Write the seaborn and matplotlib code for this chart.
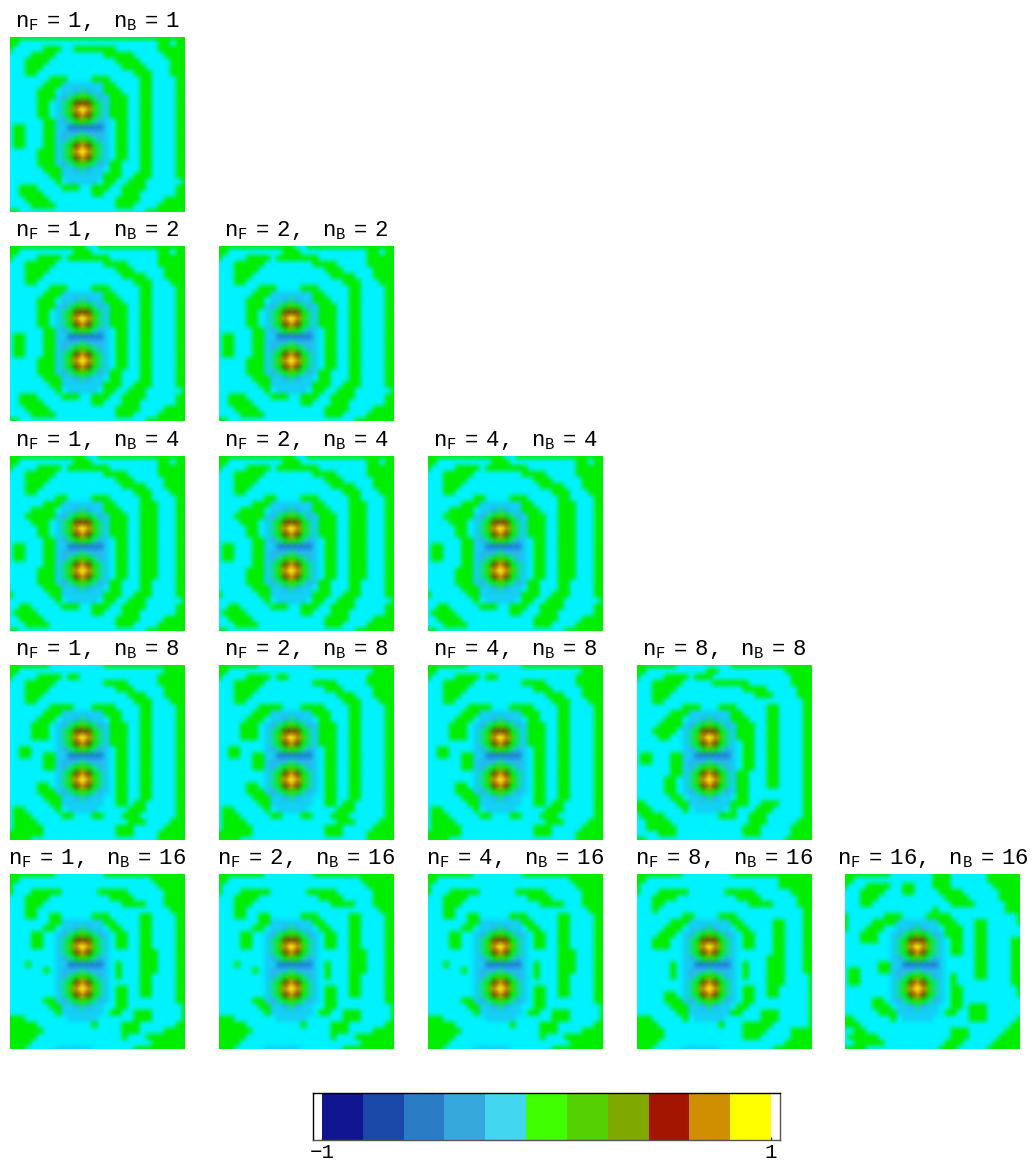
# -*- coding: utf-8 -*-
"""
Density differences for the (nF, nB) grid, one small map per basis pair
"""
import numpy as np
import matplotlib
matplotlib.use("Agg")
import matplotlib.pyplot as plt
from matplotlib.colors import ListedColormap
import seaborn as sb

# one character per grid point, colour level (hex digit)
GRID_11_TOP = [
    "555555555555555555555555555555",
    "554444444444444444444444455455",
    "544444555445555555444444455555",
    "444455554444444455555444445555",
    "444555544444444444555544444555",
    "444555444444444444455554444555",
    "444554444444444444444555444555",
]
GRID_12 = [
    "555555555555544555555555555555",
    "554444444445554444444444455455",
    "544445555455555554444444455555",
    "444555554444444455554444455555",
    "444555544444444444555444445555",
    "444555444444444444455554445555",
    "444554444444444444444555444555",
    "444444455544445554444455444455",
    "444444555433334555444455444455",
    "444445554333333355544455444455",
    "444445554335553345554455444455",
    "444445544357875345554455444455",
    "444445544359A95345554455444455",
    "444445544358985345554455444455",
    "444444554335553344554455444455",
    "455444554322222344554455444455",
    "455444554333333344554455444455",
    "455444554335553344554455444455",
    "455444554357875344554455444455",
    "444445554359A95344554455444455",
    "444445554358985344554455444455",
    "444445554335553345544455444455",
    "444444555333333345544455444455",
    "444444455533333455544555444455",
    "444444445553333555445554444445",
    "445554444555445554455554444455",
    "445555444444445544455544444455",
    "444555544444444444555544445555",
    "444455554444444444555444455555",
    "554444444444444444444445555555",
]
GRID_14 = [
    "555555555555544555555555555555",
    "554444444445554444444444455455",
    "544445555455555554444444455555",
    "444555554444444455554444455555",
    "444555544444444444555444445555",
    "444555444444444444455554445555",
    "444554444444444444444555444555",
    "444444445544445554444455444455",
    "444444555433334555444455544455",
    "444455554333333355544455544455",
    "444555554335553345554455544455",
    "444455544357875345554455544455",
    "444445544359A95345554455544455",
    "444445544358985345554455544455",
    "444444554335553344554455544455",
    "455444554322222344554455544455",
    "455444554333333344554455544455",
    "455444554335553344554455544455",
    "444444554357875344554455544455",
    "444445554359A95344554455544455",
    "444445554358985344554455544455",
    "444445554335553345544455444455",
    "444444555333333345544455444455",
    "544444455533333455544555444455",
    "444444445553333555445554444445",
    "445544444555445554455554444455",
    "455554444444445544455544444455",
    "445555444444444444555544445555",
    "444555544444444444555444455555",
    "554444444444444444444445555555",
]
GRID_18 = [
    "555555544444444455555555555556",
    "554444444444444444444444445555",
    "544445555455444444444444455555",
    "444555554444444455554444455555",
    "444555544444444444555444445555",
    "444555444444444444445554445555",
    "444554444444444444444555444555",
    "444444455554445555444455444455",
    "444444555433334455544455444455",
    "444445554333333345544455444455",
    "444455544335553345554455444455",
    "444455544357875345554455444455",
    "444455544359A95345554455444455",
    "444444444358985345554455444455",
    "445544444335553344554455444455",
    "445544554322222344554455444455",
    "444444554333333344554455444455",
    "444444554335553344554455444455",
    "444444444357875344554455444455",
    "444444444359A95344554455444455",
    "444445544358985344554455444455",
    "444445554335553344554455444455",
    "444444555333333344554455444455",
    "444444455533333444554554444455",
    "455444445553333444445554444455",
    "455544444554445544455544444455",
    "455554444444444444445554444555",
    "455555444444444444555444445555",
    "555555444444444444555444455555",
    "555544444444444444444444455555",
]
GRID_88 = [
    "555555544444444455555555555556",
    "554444444444554444444444455555",
    "544445555455544444444444445555",
    "444555554444455555544444445555",
    "444555544444444444555544444555",
    "444555444444444444445554444555",
    "444554444444444444444444444455",
    "444444445554445554444455444455",
    "444444555433334555444455444455",
    "444445554333333355544455444455",
    "444455554335553345554455444455",
    "444555544357875345554455444455",
    "444455444359A95345554455444455",
    "444444444358985344554455444455",
    "444444444335553344554455444455",
    "455444554322222344554455444455",
    "455444554333333344554455444455",
    "444444554335553344554455444455",
    "444444554357875345544455444455",
    "444445544359A95345544455444455",
    "444445544358985345544455444455",
    "444445544335553345544444444455",
    "444444554333333345544444444455",
    "554444455533333455544555444455",
    "555444445553333554445554444455",
    "455554444444445554455544444455",
    "445555444444444444455544444555",
    "445555544444444444555444445555",
    "444455544444444444555444445555",
    "554444444444444444444444455555",
]
GRID_116 = [
    "555555554444444455555555555556",
    "554444444444444444444444555555",
    "544444444444444444444444455555",
    "544455555444444555554444445555",
    "444555544444444445555444445555",
    "444555444444444444455554445555",
    "444554444444444444444444444555",
    "444554455444445554444455444455",
    "444444455433334555444455444455",
    "444444554333333345544455444455",
    "444455444335553344554455444455",
    "444455444357875344554455444455",
    "444455444359A95344554455444455",
    "444444444358985344444455544455",
    "444444444335553344444455544455",
    "444544444322222344544455544455",
    "444444544333333344544455544455",
    "444444444335553344544455444455",
    "444444444357875344444455444455",
    "444444444359A95344554455444455",
    "444444444358985344554455444455",
    "444444554335553344554444444455",
    "444444455333333344554444444445",
    "444444445533333445544555444445",
    "555444444433333444444555444445",
    "555554444444445444455544444455",
    "555555444444444444455544445555",
    "555554444444444444454445555555",
    "555544444444444444444444555555",
    "555444443333334444444555555555",
]
GRID_816 = [
    "555555554444444455555555555556",
    "554444444444444444444444555555",
    "544444444444444444444444555555",
    "544455555444444555554444445555",
    "444555544444444445555444444555",
    "444554444444444444455554444555",
    "444544444444444444444444444455",
    "444444445544445554444444444455",
    "444444555433334555444445544455",
    "444445554333333345544445544455",
    "444455544335553344554445544455",
    "444555444357875344554445544455",
    "444555444359A95344554445544455",
    "444444444358985344444445544455",
    "444444444335553344444455544455",
    "444444544322222344544455544455",
    "444444544333333344544455544455",
    "444444544335553344544455544445",
    "444444444357875344444455544445",
    "444444444359A95344554455444445",
    "444445544358985344554455444445",
    "444445554335553344554444444445",
    "444444555333333345544444444445",
    "444444455533333455444555444445",
    "555444445533334444444555444445",
    "555544444444445444555554444445",
    "555554444444444444555544445555",
    "555554444444444444555444445555",
    "555544444444444444444444455555",
    "555444443333334444444445555555",
]
GRID_1616 = [
    "555555554444444555444444555556",
    "554444444444444555444444555555",
    "544455554455444555444444455555",
    "444555544455444455554444445555",
    "444555444444444445555444445555",
    "444554444444444444555544444555",
    "444444444444444544444444444555",
    "544444455544445555444444444445",
    "544445555433334455544455444445",
    "544455544333333345554455444444",
    "444555444335553345554455444444",
    "444555444357875344554455444455",
    "444444444359A95344554455444455",
    "444444444358985344554455444455",
    "444444444335553344444455444455",
    "444444554322222344444455444455",
    "455444554333333344444455444455",
    "455444444335553344544455444455",
    "455444444357875344544444444455",
    "444444444359A95344554444444445",
    "444444444358985344554444444445",
    "444445544335553344554444444444",
    "444445554333333344554555444444",
    "444444555533333445544555444444",
    "554444445553333444444555444445",
    "555444444444444444444444444455",
    "445544444444444444555444444555",
    "455555444444444444555444445555",
    "445555544444444445554444455555",
    "555544444444444455544444555555",
]
# the two peaks and the blue waist look alike in every panel: rows 8..24, columns 8..16
CORE = [
    ".3333333.",
    ".33BCB33.",
    "3BC565CB3",
    "3C58885C3",
    "3C69A96C3",
    "3C58985C3",
    "3BC565CB3",
    "332222223",
    "3BBBCBBB3",
    "3BC565CB3",
    "3C58985C3",
    "3C69A96C3",
    "3C58985C3",
    "3BC565CB3",
    ".33BCB33.",
    ".3333333.",
    ".4333334.",
]

N_F = [1, 2, 4, 8, 16]
N_B = [1, 2, 4, 8, 16]
# which transcribed map each (nF, nB) panel shows
PANEL_GRIDS = {
    (1, 1): GRID_11_TOP + GRID_12[7:],
    (1, 2): GRID_12, (2, 2): GRID_12,
    (1, 4): GRID_14, (2, 4): GRID_14, (4, 4): GRID_14,
    (1, 8): GRID_18, (2, 8): GRID_18, (4, 8): GRID_18, (8, 8): GRID_88,
    (1, 16): GRID_116, (2, 16): GRID_116, (4, 16): GRID_116,
    (8, 16): GRID_816, (16, 16): GRID_1616,
}

# levels 0..A as on the colour bar, B darker halo blue, C green-cyan ring
PANEL_COLORS = ["#10148f", "#1a48a8", "#1f80d8", "#14d0f4", "#00f2ff", "#00ee00",
                "#40d800", "#7fa000", "#7a4c00", "#d08f00", "#ffff20", "#28b8f0", "#10e090"]
BAR_COLORS = ["#10148f", "#1a48a8", "#2a7cc4", "#36a8dc", "#42d7ef", "#40ff00",
              "#55d000", "#7fa800", "#a31500", "#d08f00", "#ffff00"]
BAR_LEVELS = [list(range(11))]
BAR_LABELS = ["\u22121", "1"]

W, H = 1034, 1165
COL_X = [10, 219, 428, 637, 845]
ROW_Y = [37, 246, 456, 665, 874]
SIZE = 175


def to_levels(rows):
    rows = [row.ljust(30, row[-1])[:30] for row in rows]
    levels = np.array([[int(c, 16) for c in row] for row in rows])
    for r, core_row in enumerate(CORE):
        for c, ch in enumerate(core_row):
            if ch != ".":
                levels[r + 8, c + 8] = int(ch, 16)
    return levels


def soften(img, dpi):
    # same slight blur the scaled-up original has
    kernel = np.array([1, 2, 1]) / 4
    pad = 1
    out = np.pad(img, ((pad, pad), (pad, pad), (0, 0)), mode="edge")
    out = np.apply_along_axis(lambda v: np.convolve(v, kernel, mode="same"), 0, out)
    out = np.apply_along_axis(lambda v: np.convolve(v, kernel, mode="same"), 1, out)
    return out[pad:-pad, pad:-pad], 0, 0


def draw_panel(fig, i, j, nf, nb):
    ax = fig.add_axes([COL_X[j] / W, 1 - (ROW_Y[i] + SIZE) / H, SIZE / W, SIZE / H])
    sb.heatmap(to_levels(PANEL_GRIDS[(nf, nb)]), ax=ax, cmap=ListedColormap(PANEL_COLORS),
               vmin=-0.5, vmax=12.5, cbar=False, xticklabels=False, yticklabels=False,
               shading="gouraud")
    ax.collections[0].set_agg_filter(soften)
    ax.set_xlim(0, 29)
    ax.set_ylim(29, 0)
    ax.set_title(r"$\mathrm{n_F\,{=}\,%d,\ \ n_B\,{=}\,%d}$" % (nf, nb), fontsize=16, pad=7, color="black")


def draw_bar(fig):
    ax = fig.add_axes([313 / W, 1 - 1140 / H, 467 / W, 47 / H])
    sb.heatmap(np.array(BAR_LEVELS), ax=ax, cmap=ListedColormap(BAR_COLORS), vmin=-0.5, vmax=10.5,
               cbar=False, xticklabels=False, yticklabels=False)
    ax.set_xlim(-0.22, 11.22)
    ax.set_ylim(1, 0)
    for name, spine in ax.spines.items():
        spine.set_visible(True)
        spine.set_linewidth(1)
        spine.set_color("black" if name in ("top", "left") else "#555555")
    ax.set_xticks([0, 11])
    ax.set_xticklabels(BAR_LABELS, fontsize=15, color="black")
    ax.tick_params(axis="x", direction="in", length=2, width=1, pad=2, bottom=True)


def main():
    sb.set_theme(style="white")
    plt.rcParams["font.family"] = ["Liberation Mono", "DejaVu Sans"]
    plt.rcParams["mathtext.fontset"] = "custom"
    plt.rcParams["mathtext.rm"] = "Liberation Mono"

    fig = plt.figure(figsize=(W / 100, H / 100), dpi=100)
    for i, nb in enumerate(N_B):
        for j, nf in enumerate(N_F):
            if nf <= nb:
                draw_panel(fig, i, j, nf, nb)
    draw_bar(fig)
    fig.savefig("out.png", dpi=100)
    plt.close(fig)


if __name__ == '__main__':
    main()
